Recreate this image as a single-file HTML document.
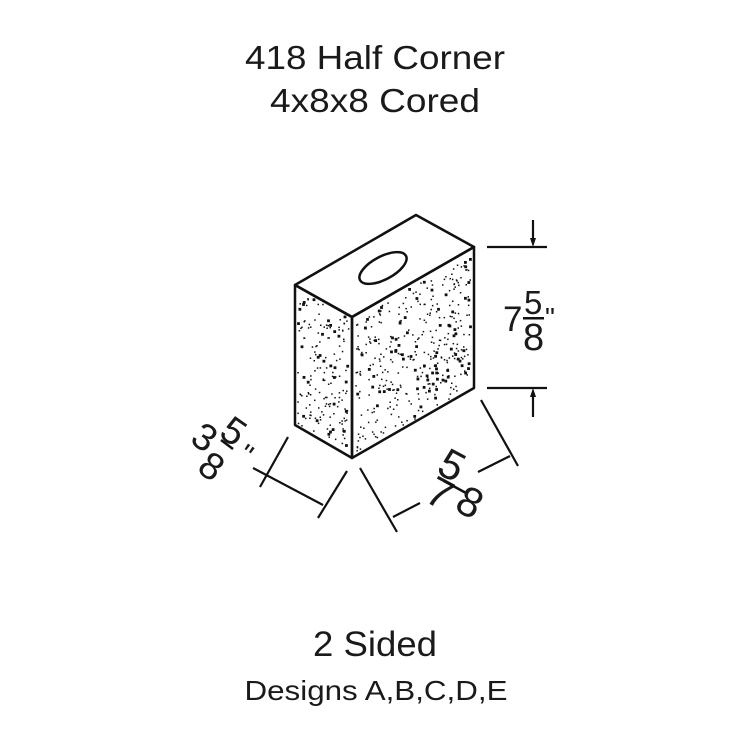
<!DOCTYPE html>
<html><head><meta charset="utf-8"><style>
html,body{margin:0;padding:0;background:#fff;}
svg{display:block;}
text{font-family:"Liberation Sans",sans-serif;fill:#1a1a1a;}
.c{text-anchor:middle;dominant-baseline:central;}
</style></head><body>
<svg id="s" width="751" height="751" viewBox="0 0 751 751" xmlns="http://www.w3.org/2000/svg">
<text x="375" y="69" font-size="33" text-anchor="middle" textLength="260" lengthAdjust="spacingAndGlyphs">418 Half Corner</text>
<text x="375" y="112" font-size="33" text-anchor="middle" textLength="210" lengthAdjust="spacingAndGlyphs">4x8x8 Cored</text>
<text x="375" y="656" font-size="35" text-anchor="middle" textLength="124" lengthAdjust="spacingAndGlyphs">2 Sided</text>
<text x="376" y="700" font-size="28" text-anchor="middle" textLength="263" lengthAdjust="spacingAndGlyphs">Designs A,B,C,D,E</text>

<g fill="none" stroke="#111" stroke-width="2.5" stroke-linejoin="round">
<polygon points="416,215 474,247 352,317 295,285"/>
<polygon points="295,285 352,317 352,458 295,425"/>
<polygon points="352,317 474,247 474,388 352,458"/>
<ellipse cx="383" cy="268" rx="26" ry="11.5" transform="rotate(-28 383 268)"/>
</g>
<g id="dots" fill="#111"></g>

<g stroke="#111" stroke-width="2.2" fill="none">
<line x1="487" y1="247" x2="547" y2="247"/>
<line x1="487" y1="388" x2="547" y2="388"/>
<line x1="533" y1="220" x2="533" y2="240"/>
<line x1="533" y1="396" x2="533" y2="417"/>
<line x1="360" y1="468" x2="397" y2="532"/>
<line x1="481" y1="400" x2="518" y2="466"/>
<line x1="393" y1="517" x2="420" y2="503"/>
<line x1="478" y1="472" x2="510" y2="456"/>
<line x1="288" y1="437" x2="260" y2="487"/>
<line x1="347" y1="471" x2="318" y2="518"/>
<line x1="253" y1="468" x2="323" y2="505"/>
</g>
<g fill="#111">
<polygon points="533,247 530,238 536,238"/>
<polygon points="533,388 530,397 536,397"/>
</g>

<!-- right height label -->
<text x="503" y="331" font-size="35">7</text>
<text x="524" y="314" font-size="33">5</text>
<rect x="523" y="317" width="21" height="2.5" fill="#111"/>
<text x="523" y="350" font-size="38">8</text>
<text x="545" y="327" font-size="28">"</text>

<!-- bottom right -->
<text class="c" font-size="42" transform="translate(440,493) rotate(28)">7</text>
<text class="c" font-size="42" transform="translate(452,465) rotate(28)">5</text>
<line x1="444" y1="481" x2="466" y2="493" stroke="#111" stroke-width="2.5"/>
<text class="c" font-size="42" transform="translate(470,502) rotate(28)">8</text>

<!-- bottom left -->
<text class="c" font-size="38" transform="translate(204,438) rotate(35)">3</text>
<text class="c" font-size="38" transform="translate(233,432) rotate(35)">5</text>
<line x1="221" y1="440" x2="233" y2="449" stroke="#111" stroke-width="2.5"/>
<text class="c" font-size="38" transform="translate(211,467) rotate(35)">8</text>
<text class="c" font-size="30" transform="translate(245,455) rotate(35)">"</text>
</svg>
<script>
(function(){
var g=document.getElementById('dots');var seed=7;
function r(){seed=(seed*16807)%2147483647;return seed/2147483647;}
function face(o,u,v,n){
 for(var i=0;i<n;i++){var a=r(),b=r();
  var x=o[0]+u[0]*a+v[0]*b,y=o[1]+u[1]*a+v[1]*b;
  var s=r()<0.2?2.8:1.5;
  var c=document.createElementNS('http://www.w3.org/2000/svg','rect');
  c.setAttribute('x',(x-s/2).toFixed(1));c.setAttribute('y',(y-s/2).toFixed(1));
  c.setAttribute('width',s);c.setAttribute('height',s);g.appendChild(c);}
}
face([298,290],[51,29],[0,134],170);
face([356,320],[115,-66],[0,134],380);
})();
</script>
</body></html>
